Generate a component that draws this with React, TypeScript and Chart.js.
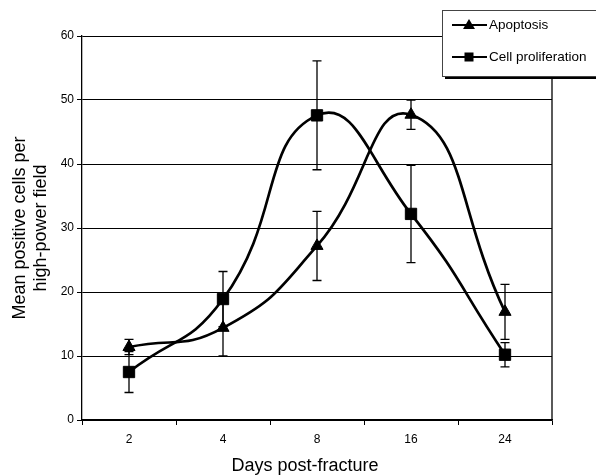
import React, { useEffect, useRef } from 'react';
import { Chart, registerables } from 'chart.js';

Chart.register(...registerables);

const days = ['2', '4', '8', '16', '24'];
const apoptosis = [11.4, 14.4, 27.2, 47.7, 16.9];
const apoptosisErr = [1.2, 4.4, 5.4, 2.3, 4.3];
const proliferation = [7.5, 18.9, 47.6, 32.2, 10.2];
const proliferationErr = [3.2, 4.3, 8.5, 7.6, 1.9];
const yMin = 0;
const yMax = 60;
const yStep = 10;
const xTitle = 'Days post-fracture';
const yTitle = ['Mean positive cells per', 'high-power field'];
const seriesLabels = ['Apoptosis', 'Cell proliferation'];

const FONT = '"Liberation Sans", Arial, Helvetica, sans-serif';

const errorBarPlugin = {
  id: 'errorBars',
  beforeDatasetsDraw(chart: any) {
    const ctx = chart.ctx;
    const yScale = chart.scales.y;
    chart.data.datasets.forEach((ds: any, i: number) => {
      const meta = chart.getDatasetMeta(i);
      const errs: number[] = ds.errors || [];
      meta.data.forEach((pt: any, j: number) => {
        const v = ds.data[j];
        const e = errs[j];
        if (e == null) return;
        const x = pt.x;
        const yt = yScale.getPixelForValue(v + e);
        const yb = yScale.getPixelForValue(v - e);
        ctx.save();
        ctx.strokeStyle = '#000';
        ctx.lineWidth = 1.3;
        ctx.beginPath();
        ctx.moveTo(x, yt);
        ctx.lineTo(x, yb);
        ctx.moveTo(x - 4.5, yt);
        ctx.lineTo(x + 4.5, yt);
        ctx.moveTo(x - 4.5, yb);
        ctx.lineTo(x + 4.5, yb);
        ctx.stroke();
        ctx.restore();
      });
    });
  },
  afterDraw(chart: any) {
    const ctx = chart.ctx;
    const ca = chart.chartArea;
    ctx.save();
    // right border of plot area
    ctx.strokeStyle = '#000';
    ctx.lineWidth = 1.3;
    ctx.beginPath();
    ctx.moveTo(ca.right, ca.top);
    ctx.lineTo(ca.right, ca.bottom);
    ctx.stroke();

    // x axis title
    ctx.fillStyle = '#000';
    ctx.font = `18px ${FONT}`;
    ctx.textAlign = 'center';
    ctx.textBaseline = 'middle';
    ctx.fillText(xTitle, 305, 466);

    // legend box with shadow
    const lx = 442, ly = 10, lw = 170, lh = 66;
    ctx.fillStyle = '#000';
    ctx.fillRect(lx + 3, ly + lh, lw, 3);
    ctx.fillStyle = '#fff';
    ctx.fillRect(lx, ly, lw, lh);
    ctx.strokeStyle = '#444';
    ctx.lineWidth = 1;
    ctx.strokeRect(lx + 0.5, ly + 0.5, lw, lh);

    const items = [
      { y: 25, style: 'triangle' },
      { y: 57, style: 'rect' },
    ];
    items.forEach((it, i) => {
      ctx.strokeStyle = '#000';
      ctx.lineWidth = 2;
      ctx.beginPath();
      ctx.moveTo(452, it.y);
      ctx.lineTo(487, it.y);
      ctx.stroke();
      ctx.fillStyle = '#000';
      const cx = 469;
      if (it.style === 'triangle') {
        ctx.beginPath();
        ctx.moveTo(cx, it.y - 6);
        ctx.lineTo(cx + 6, it.y + 4);
        ctx.lineTo(cx - 6, it.y + 4);
        ctx.closePath();
        ctx.fill();
      } else {
        ctx.fillRect(cx - 4.5, it.y - 4.5, 9, 9);
      }
      ctx.font = `13.5px ${FONT}`;
      ctx.textAlign = 'left';
      ctx.textBaseline = 'middle';
      ctx.fillText(chart.data.datasets[i].label, 489, it.y);
    });
    ctx.restore();
  },
};

export default function App() {
  const ref = useRef<HTMLCanvasElement | null>(null);

  useEffect(() => {
    document.body.style.margin = '0';
    const canvas = ref.current;
    if (!canvas) return;
    const chart = new Chart(canvas, {
      type: 'line',
      data: {
        labels: days,
        datasets: [
          {
            label: seriesLabels[0],
            data: apoptosis,
            errors: apoptosisErr,
            borderColor: '#000',
            backgroundColor: '#000',
            borderWidth: 2.7,
            tension: 0.5,
            pointStyle: 'triangle',
            pointRadius: 7,
            pointBackgroundColor: '#000',
            pointBorderColor: '#000',
            pointBorderWidth: 1,
          } as any,
          {
            label: seriesLabels[1],
            data: proliferation,
            errors: proliferationErr,
            borderColor: '#000',
            backgroundColor: '#000',
            borderWidth: 2.7,
            tension: 0.5,
            pointStyle: 'rect',
            pointRadius: 8,
            pointBackgroundColor: '#000',
            pointBorderColor: '#000',
            pointBorderWidth: 1,
          } as any,
        ],
      },
      options: {
        responsive: false,
        animation: false,
        layout: { padding: { top: 36, right: 44, left: 0, bottom: 0 } },
        plugins: {
          legend: { display: false },
          tooltip: { enabled: false },
        },
        scales: {
          x: {
            type: 'category',
            offset: true,
            afterFit: (s: any) => { s.height = 56; },
            grid: {
              offset: true,
              drawOnChartArea: false,
              drawTicks: true,
              tickLength: 5,
              color: '#000',
              lineWidth: 1,
            },
            border: { display: true, color: '#000', width: 1.3 },
            ticks: {
              padding: 7,
              color: '#000',
              font: { family: FONT, size: 12 },
              maxRotation: 0,
            },
          },
          y: {
            min: yMin,
            max: yMax,
            afterFit: (s: any) => { s.width = 82; },
            grid: {
              color: '#000',
              lineWidth: 1,
              drawTicks: true,
              tickLength: 5,
            },
            border: { display: true, color: '#000', width: 1.3 },
            ticks: {
              stepSize: yStep,
              padding: 3,
              color: '#000',
              font: { family: FONT, size: 12 },
            },
            title: {
              display: true,
              text: yTitle,
              color: '#000',
              font: { family: FONT, size: 18, lineHeight: 1.15 },
              padding: { top: 10, bottom: 0 },
            },
          },
        },
      },
      plugins: [errorBarPlugin],
    } as any);
    return () => chart.destroy();
  }, []);

  return (
    <div style={{ width: 596, height: 476, background: '#fff' }}>
      <canvas ref={ref} width={596} height={476} />
    </div>
  );
}
